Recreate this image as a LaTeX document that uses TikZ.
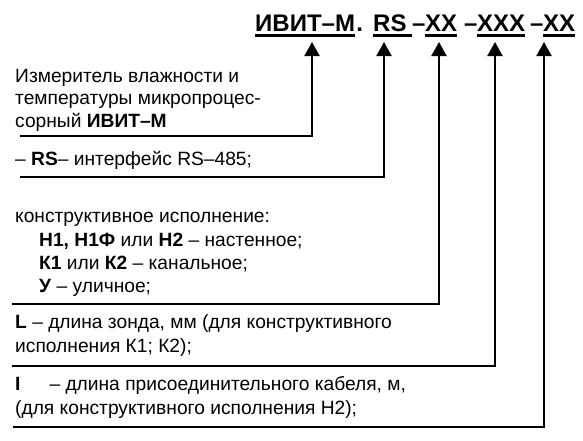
\documentclass[tikz,border=0pt]{standalone}
\usepackage{fontspec}
\setmainfont{Liberation Sans}
\usetikzlibrary{arrows.meta}
\begin{document}
\begin{tikzpicture}[x=1pt,y=-1pt,
  txt/.style={anchor=base west, inner sep=0pt, font=\fontsize{19.2}{23}\selectfont},
  hdr/.style={anchor=base west, inner sep=0pt, font=\fontsize{24}{28}\selectfont\bfseries},
  conn/.style={line width=2.2pt, -{Triangle[length=14pt,width=15pt]}},
  uline/.style={line width=2.2pt}]
\useasboundingbox (0,0) rectangle (583,440);
% header
\node[hdr] (h1) at (255,31) {ИВИТ–М};
\node[hdr] (hdot) at ([xshift=1pt]h1.base east) {.};
\node[hdr] (hrs) at (373,31) {RS};
\node[hdr] (hd1) at (412,31) {–};
\node[hdr] (hx1) at (425,31) {XX};
\node[hdr] (hd2) at (464,31) {–};
\node[hdr] (hx2) at (477,31) {XXX};
\node[hdr] (hd3) at (530,31) {–};
\node[hdr] (hx3) at (543,31) {XX};
\foreach \n in {h1,hx1,hx2,hx3}
  \draw[uline] ([yshift=-4.5pt]\n.base west) -- ([yshift=-4.5pt]\n.base east);
\draw[uline] ([yshift=-4.5pt]hrs.base west) -- ([yshift=-4.5pt,xshift=5pt]hrs.base east);
% texts
\node[txt] (a1) at (15,82) {Измеритель влажности и};
\node[txt] (a2) at (15,104.5) {температуры микропроцес-};
\node[txt] (a3) at (15,127) {сорный \textbf{ИВИТ–М}};
\node[txt] (b1) at (15,165) {– \textbf{RS}– интерфейс RS–485;};
\node[txt] (c1) at (15,222) {конструктивное исполнение:};
\node[txt] (c2) at (39,246) {\textbf{Н1, Н1Ф} или \textbf{Н2} – настенное;};
\node[txt] (c3) at (39,269) {\textbf{К1} или \textbf{К2} – канальное;};
\node[txt] (c4) at (39,292) {\textbf{У} – уличное;};
\node[txt] (d1) at (15,328) {\textbf{L} – длина зонда, мм (для конструктивного};
\node[txt] (d2) at (15,352) {исполнения К1; К2);};
\node[txt] (e1) at (15,390) {\textbf{I}\hspace{29pt}– длина присоединительного кабеля, м,};
\node[txt] (e2) at (15,414) {(для конструктивного исполнения Н2);};
% connector corners and tips
\coordinate (k1) at (20,136);
\coordinate (k2) at (20,177);
\coordinate (k3) at (12,304);
\coordinate (k4) at (12,366);
\coordinate (k5) at (13,427);
\coordinate (p1) at (312,42);
\coordinate (p2) at (384,42);
\coordinate (p3) at (439,42);
\coordinate (p4) at (495,42);
\coordinate (p5) at (544,42);
\foreach \i in {1,...,5}
  \draw[conn] (k\i) -| (p\i);
\end{tikzpicture}
\end{document}
